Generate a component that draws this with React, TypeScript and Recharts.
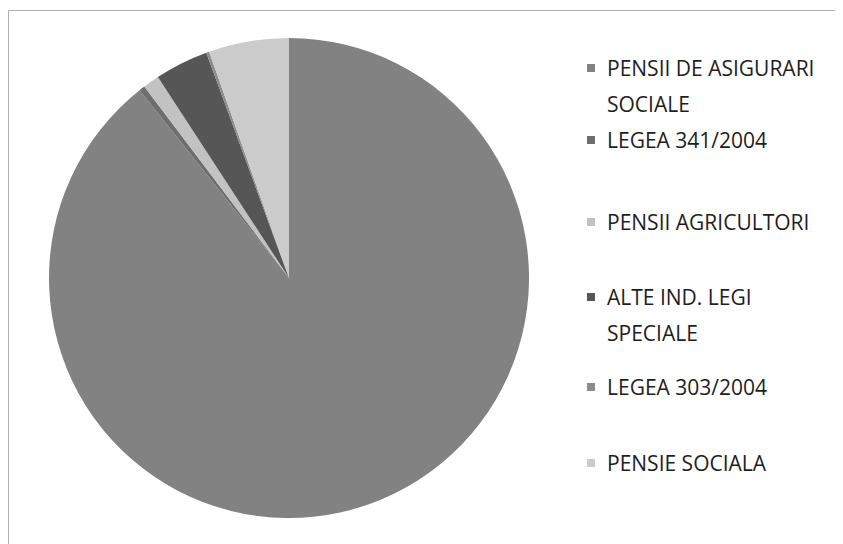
import React from "react";
import { PieChart, Pie, Cell, Legend } from "recharts";

const categories = [
  "PENSII DE ASIGURARI SOCIALE",
  "LEGEA 341/2004",
  "PENSII AGRICULTORI",
  "ALTE IND. LEGI SPECIALE",
  "LEGEA 303/2004",
  "PENSIE SOCIALA",
];
const shares = [89.3, 0.4, 1.1, 3.6, 0.2, 5.4];
const colors = ["#828282", "#6e6e6e", "#c2c2c2", "#565656", "#8c8c8c", "#cbcbcb"];

const data = categories.map((name, i) => ({ name, value: shares[i] }));

// top of each legend entry
const legendTops = [39, 111, 193, 268, 358, 434];

function renderLegend() {
  return (
    <div style={{ position: "relative", width: 260, height: 520 }}>
      {categories.map((name, i) => (
        <div
          key={name}
          style={{ position: "absolute", left: 0, top: legendTops[i], display: "flex", alignItems: "flex-start" }}
        >
          <span
            style={{ width: 8, height: 8, background: colors[i], marginTop: 14, marginRight: 12, flexShrink: 0 }}
          />
          <span style={{ width: 232, fontSize: 21, lineHeight: "36px", color: "#1e1e1e" }}>{name}</span>
        </div>
      ))}
    </div>
  );
}

export default function App() {
  return (
    <div
      style={{
        position: "relative",
        width: 835,
        height: 534,
        marginTop: 2,
        borderTop: "1px solid #b0b0b0",
        borderLeft: "1px solid #b0b0b0",
        fontFamily: "'Open Sans', sans-serif",
        boxSizing: "border-box",
        overflow: "hidden",
      }}
    >
      <PieChart width={834} height={533}>
        <Pie
          data={data}
          dataKey="value"
          nameKey="name"
          cx={275}
          cy={262}
          outerRadius={240}
          startAngle={90}
          endAngle={-270}
          stroke="none"
          isAnimationActive={false}
        >
          {data.map((d, i) => (
            <Cell key={d.name} fill={colors[i]} />
          ))}
        </Pie>
        <Legend
          content={renderLegend}
          wrapperStyle={{ position: "absolute", left: 578, top: 0, width: 260, height: 520 }}
        />
      </PieChart>
    </div>
  );
}
